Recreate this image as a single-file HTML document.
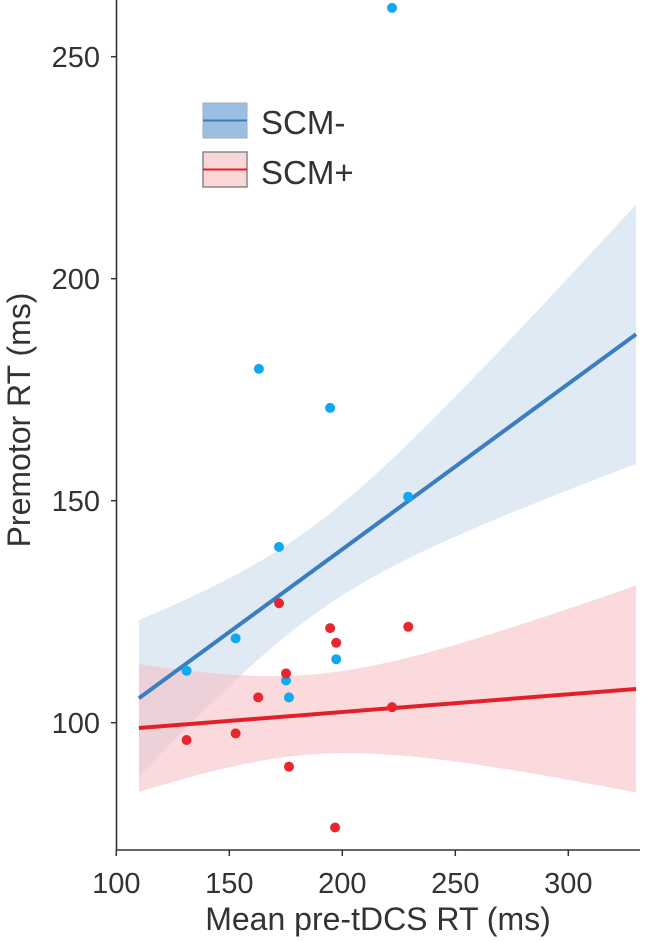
<!DOCTYPE html>
<html><head><meta charset="utf-8"><style>
body{margin:0;background:#fff;overflow:hidden;}
svg text{font-family:"Liberation Sans",Arial,sans-serif;fill:#333;}
</style></head><body>
<svg id="chart" width="653" height="942" style="position:absolute;left:0;top:0" xmlns="http://www.w3.org/2000/svg"></svg>
<script>
const xTicks=[100,150,200,250,300];
const yTicks=[100,150,200,250];
const blueX=[222.0,163.1,194.6,172.0,229.1,131.1,152.8,175.1,176.4,197.3];
const blueY=[261.0,179.7,170.9,139.6,150.9,111.7,119.0,109.5,105.7,114.3];
const redX=[172.0,194.6,197.3,229.2,175.1,162.8,222.0,131.1,152.8,176.4,196.8];
const redY=[126.9,121.3,118.0,121.6,111.1,105.7,103.5,96.1,97.6,90.1,76.4];
const fitRange=[110,330];
const blueFit=[105.5,187.5];
const redFit=[98.8,107.6];
const blueBandHalf=[17.6,10,29.2];
const redBandHalf=[14.4,9,23.3];

const NS='http://www.w3.org/2000/svg';
const svg=document.getElementById('chart');
const sx=v=>116.3+(v-100)*2.26;
const sy=v=>722.7-(v-100)*4.44;
function mk(tag,attrs,parent){const e=document.createElementNS(NS,tag);for(const k in attrs)e.setAttribute(k,attrs[k]);(parent||svg).appendChild(e);return e;}

function drawBand(line,half,band,name){
  const x0=fitRange[0],x1=fitRange[1];
  const b=(line[1]-line[0])/(x1-x0);const yAt=x=>line[0]+b*(x-x0);
  const A=half[1]*half[1];
  const r=Math.sqrt((half[2]*half[2]-A)/(half[0]*half[0]-A));
  const m=(x1+r*x0)/(1+r);const B=(half[0]*half[0]-A)/((m-x0)**2);
  const up=[],lo=[];
  for(let k=0;k<=60;k++){const x=x0+(x1-x0)*k/60;const hw=Math.sqrt(A+B*(x-m)**2);up.push([sx(x),sy(yAt(x)+hw)]);lo.push([sx(x),sy(yAt(x)-hw)]);}
  const pts=up.concat(lo.reverse()).map(p=>p.join(',')).join(' ');
  const poly=mk('polygon',{points:pts,fill:band,'fill-opacity':0.55});
  
  
}
function drawLine(line,col,name){
  const l=mk('line',{x1:sx(fitRange[0]),y1:sy(line[0]),x2:sx(fitRange[1]),y2:sy(line[1]),stroke:col,'stroke-width':4});
  
  
}
drawBand(blueFit,blueBandHalf,'#c5d8ec','scm-minus');
drawBand(redFit,redBandHalf,'#f5bcbf','scm-plus');
drawLine(blueFit,'#3b7dbf','scm-minus');
drawLine(redFit,'#e2202b','scm-plus');

function drawPts(xs,ys,col,name){
  xs.forEach((x,i)=>{const c=mk('circle',{cx:sx(x),cy:sy(ys[i]),r:5,fill:col});
    
    });
}
drawPts(blueX,blueY,'#10a8ee','scm-minus');
drawPts(redX,redY,'#e8262f','scm-plus');

const ya=mk('line',{x1:116.5,y1:0,x2:116.5,y2:850,stroke:'#333','stroke-width':1.6});


const xa=mk('line',{x1:116,y1:850,x2:640,y2:850,stroke:'#333','stroke-width':1.6});


xTicks.forEach(v=>{mk('line',{x1:sx(v),y1:850,x2:sx(v),y2:856,stroke:'#333','stroke-width':1.5});
  const t=mk('text',{x:sx(v),y:893,'font-size':29,'text-anchor':'middle'});t.textContent=v;
  
  });
yTicks.forEach(v=>{mk('line',{x1:111,y1:sy(v),x2:116.5,y2:sy(v),stroke:'#333','stroke-width':1.5});
  const t=mk('text',{x:100,y:sy(v)+10.5,'font-size':29,'text-anchor':'end'});t.textContent=v;
  
  });
</script>
<svg style="position:absolute;left:0;top:0" width="653" height="942" xmlns="http://www.w3.org/2000/svg">
<text x="378" y="930" font-size="32" text-anchor="middle" style="font-family:'Liberation Sans',sans-serif;fill:#333">Mean pre-tDCS RT (ms)</text>
<text transform="translate(30,420) rotate(-90)" font-size="32" text-anchor="middle" style="font-family:'Liberation Sans',sans-serif;fill:#333">Premotor RT (ms)</text>
<g>
<g>
<rect x="203" y="103" width="44" height="35" fill="#9bbfe2" stroke="#aab" stroke-width="1"/>
<line x1="203" y1="120.5" x2="247" y2="120.5" stroke="#3b7dbf" stroke-width="2"/>
<text x="261" y="134" font-size="33" style="font-family:'Liberation Sans',sans-serif;fill:#333">SCM-</text>
</g>
<g>
<rect x="203" y="152" width="44" height="35" fill="#fad6d7" stroke="#888" stroke-width="1.5"/>
<line x1="203" y1="169.5" x2="247" y2="169.5" stroke="#e2202b" stroke-width="2"/>
<text x="261" y="184" font-size="33" style="font-family:'Liberation Sans',sans-serif;fill:#333">SCM+</text>
</g>
</g>
</svg>
</body></html>
